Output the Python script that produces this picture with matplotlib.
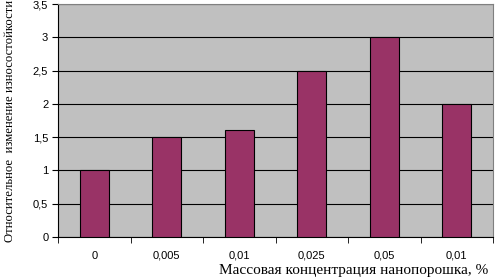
import matplotlib.pyplot as plt
import numpy as np

# массовая концентрация нанопорошка и относительное изменение износостойкости
categories = ['0', '0,005', '0,01', '0,025', '0,05', '0,01']
values = [1.0, 1.5, 1.6, 2.5, 3.0, 2.0]
y_ticks = [0, 0.5, 1, 1.5, 2, 2.5, 3, 3.5]

fig = plt.figure(figsize=(4.96, 2.79), dpi=100)
ax = fig.add_axes([58 / 496, 42 / 279, 435 / 496, 233 / 279])
ax.set_facecolor('#c0c0c0')

x = np.arange(len(categories))
ax.bar(x, values, width=0.4, color='#993366', edgecolor='black', linewidth=0.8, zorder=3)

ax.set_xlim(-0.5, len(categories) - 0.5)
ax.set_ylim(0, 3.5)
ax.set_yticks(y_ticks)
ax.set_yticklabels([f'{v:g}'.replace('.', ',') for v in y_ticks],
                   fontsize=8, family='Liberation Sans')
ax.yaxis.grid(True, color='black', linewidth=0.8, zorder=1)
ax.set_axisbelow(True)

# подписи категорий по центру, засечки на границах
ax.set_xticks(x)
ax.set_xticklabels(categories, fontsize=8, family='Liberation Sans')
ax.tick_params(axis='x', length=0, pad=10)
ax.set_xticks(np.arange(-0.5, len(categories)), minor=True)
ax.tick_params(axis='x', which='minor', length=4, color='black')
ax.tick_params(axis='y', length=4, pad=3)

for side in ['top', 'right']:
    ax.spines[side].set_color('#808080')
ax.spines['left'].set_color('black')
ax.spines['bottom'].set_color('black')

fig.text(0.712, 0.032, 'Массовая концентрация нанопорошка, %',
         ha='center', va='center', fontsize=11, family='Liberation Serif')
fig.text(0.02, 0.565, 'Относительное  изменение износостойкости',
         ha='center', va='center', rotation=90, fontsize=9.2, family='Liberation Serif')

fig.savefig('out.png', dpi=100)
